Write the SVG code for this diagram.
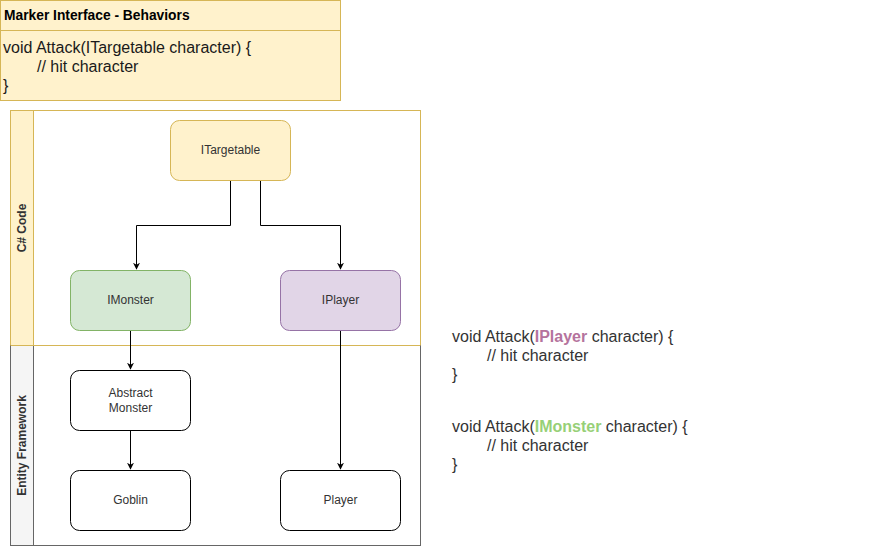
<svg xmlns="http://www.w3.org/2000/svg" width="871" height="547" viewBox="0 0 871 547">
<style>
text{font-family:"Liberation Sans",Arial,sans-serif;}
.node{stroke-width:1;}
.lbl{font-size:12px;fill:#333333;text-anchor:middle;dominant-baseline:central;}
.code{font-size:16px;fill:#333333;}
.edge{fill:none;stroke:#000000;stroke-width:1;}
.lane{font-size:12px;font-weight:bold;fill:#333333;text-anchor:middle;dominant-baseline:central;}
</style>
<defs>
<marker id="arr" viewBox="0 0 10 10" refX="9" refY="5" markerWidth="7" markerHeight="7" markerUnits="userSpaceOnUse" orient="auto">
<path d="M0,0 L10,5 L0,10 L3,5 Z" fill="#000000"/>
</marker>
</defs>
<rect width="871" height="547" fill="#ffffff"/>

<g id="marker-interface">
<rect x="0.5" y="0.5" width="340" height="100" fill="#fff2cc" stroke="#d6b656"/>
<line x1="0.5" y1="30.5" x2="340.5" y2="30.5" stroke="#d6b656"/>
<text x="4" y="20" font-size="13.8" font-weight="bold" fill="#000000">Marker Interface - Behaviors</text>
<text class="code" x="3" y="53" fill="#1a1a1a" style="fill:#1a1a1a">void Attack(ITargetable character) {</text>
<text class="code" x="37" y="72" style="fill:#1a1a1a">// hit character</text>
<text class="code" x="3" y="91" style="fill:#1a1a1a">}</text>
</g>

<g id="pool">
<rect x="10.5" y="110.5" width="410" height="235" fill="#ffffff" stroke="#d6b656"/>
<rect x="10.5" y="110.5" width="23" height="235" fill="#fff2cc" stroke="#d6b656"/>
<rect x="10.5" y="345.5" width="410" height="200" fill="#ffffff" stroke="#666666"/>
<rect x="10.5" y="345.5" width="23" height="200" fill="#f5f5f5" stroke="#666666"/>
<line x1="10.5" y1="345.5" x2="420.5" y2="345.5" stroke="#d6b656"/>
<text class="lane" transform="translate(22,228) rotate(-90)">C# Code</text>
<text class="lane" transform="translate(22,445.5) rotate(-90)">Entity Framework</text>
</g>

<g id="connectors">
<path class="edge" d="M230.5,180.5 V225.5 H136.5 V269" marker-end="url(#arr)"/>
<path class="edge" d="M260.5,180.5 V225.5 H340.5 V269" marker-end="url(#arr)"/>
<path class="edge" d="M130.5,330.5 V369" marker-end="url(#arr)"/>
<path class="edge" d="M130.5,430.5 V469" marker-end="url(#arr)"/>
<path class="edge" d="M340.5,330.5 V469" marker-end="url(#arr)"/>
</g>

<g id="itargetable">
<rect class="node" x="170.5" y="120.5" width="120" height="60" rx="9" fill="#fff2cc" stroke="#d6b656"/>
<text class="lbl" x="230.5" y="150">ITargetable</text>
</g>
<g id="imonster">
<rect class="node" x="70.5" y="270.5" width="120" height="60" rx="9" fill="#d5e8d4" stroke="#82b366"/>
<text class="lbl" x="130.5" y="300">IMonster</text>
</g>
<g id="iplayer">
<rect class="node" x="280.5" y="270.5" width="120" height="60" rx="9" fill="#e1d5e7" stroke="#9673a6"/>
<text class="lbl" x="340.5" y="300">IPlayer</text>
</g>
<g id="abstract-monster">
<rect class="node" x="70.5" y="370.5" width="120" height="60" rx="9" fill="#ffffff" stroke="#000000"/>
<text class="lbl" x="130.5" y="393">Abstract</text>
<text class="lbl" x="130.5" y="408">Monster</text>
</g>
<g id="goblin">
<rect class="node" x="70.5" y="470.5" width="120" height="60" rx="9" fill="#ffffff" stroke="#000000"/>
<text class="lbl" x="130.5" y="500">Goblin</text>
</g>
<g id="player">
<rect class="node" x="280.5" y="470.5" width="120" height="60" rx="9" fill="#ffffff" stroke="#000000"/>
<text class="lbl" x="340.5" y="500">Player</text>
</g>

<g id="code-notes">
<text class="code" x="452" y="342">void Attack(<tspan font-weight="bold" style="fill:#b5739d">IPlayer</tspan> character) {</text>
<text class="code" x="487" y="361">// hit character</text>
<text class="code" x="452" y="380">}</text>
<text class="code" x="452" y="432">void Attack(<tspan font-weight="bold" style="fill:#97d077">IMonster</tspan> character) {</text>
<text class="code" x="487" y="451">// hit character</text>
<text class="code" x="452" y="470">}</text>
</g>
</svg>
